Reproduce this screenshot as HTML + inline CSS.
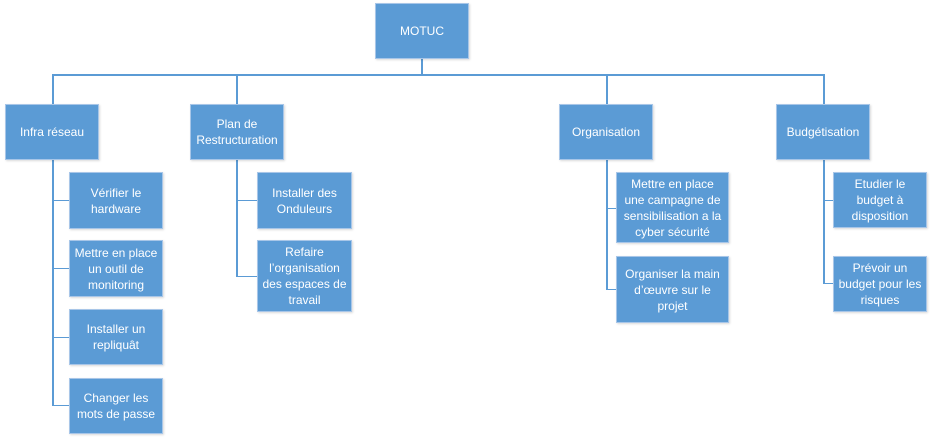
<!DOCTYPE html>
<html><head><meta charset="utf-8"><style>
body{margin:0;width:933px;height:442px;background:#fff;position:relative;overflow:hidden;font-family:"Liberation Sans",sans-serif}
.b{position:absolute;background:#5b9bd5;border:1px solid #a8c6e8;box-sizing:border-box;color:#fff;font-size:12px;line-height:16px;display:flex;align-items:center;justify-content:center;text-align:center;box-shadow:1px 1px 2px rgba(0,0,0,.15);white-space:nowrap}
.l{position:absolute;background:#5b9bd5}
</style></head><body>
<div class="l" style="left:421px;top:59px;width:2px;height:17px"></div>
<div class="l" style="left:52px;top:74px;width:773px;height:2px"></div>
<div class="l" style="left:52px;top:75px;width:2px;height:29px"></div>
<div class="l" style="left:236px;top:75px;width:2px;height:29px"></div>
<div class="l" style="left:606px;top:75px;width:2px;height:29px"></div>
<div class="l" style="left:823px;top:75px;width:2px;height:29px"></div>
<div class="l" style="left:52px;top:160px;width:2px;height:246px"></div>
<div class="l" style="left:52px;top:200px;width:17px;height:1px"></div>
<div class="l" style="left:52px;top:268px;width:17px;height:1px"></div>
<div class="l" style="left:52px;top:337px;width:17px;height:1px"></div>
<div class="l" style="left:52px;top:405px;width:17px;height:1px"></div>
<div class="l" style="left:236px;top:160px;width:2px;height:117px"></div>
<div class="l" style="left:236px;top:200px;width:21px;height:1px"></div>
<div class="l" style="left:236px;top:276px;width:21px;height:1px"></div>
<div class="l" style="left:606px;top:160px;width:2px;height:130px"></div>
<div class="l" style="left:606px;top:208px;width:10px;height:1px"></div>
<div class="l" style="left:606px;top:289px;width:10px;height:1px"></div>
<div class="l" style="left:823px;top:160px;width:2px;height:124px"></div>
<div class="l" style="left:823px;top:200px;width:10px;height:1px"></div>
<div class="l" style="left:823px;top:283px;width:10px;height:1px"></div>

<div class="b" style="left:375px;top:3px;width:94px;height:56px">MOTUC</div>
<div class="b" style="left:5px;top:104px;width:94px;height:56px">Infra réseau</div>
<div class="b" style="left:190px;top:104px;width:94px;height:56px">Plan de<br>Restructuration</div>
<div class="b" style="left:559px;top:104px;width:94px;height:56px">Organisation</div>
<div class="b" style="left:776px;top:104px;width:94px;height:56px">Budgétisation</div>

<div class="b" style="left:69px;top:172px;width:94px;height:57px">Vérifier le<br>hardware</div>
<div class="b" style="left:69px;top:240px;width:94px;height:57px">Mettre en place<br>un outil de<br>monitoring</div>
<div class="b" style="left:69px;top:309px;width:94px;height:56px">Installer un<br>repliquât</div>
<div class="b" style="left:69px;top:378px;width:94px;height:56px">Changer les<br>mots de passe</div>

<div class="b" style="left:257px;top:172px;width:95px;height:57px">Installer des<br>Onduleurs</div>
<div class="b" style="left:257px;top:240px;width:95px;height:72px">Refaire<br>l’organisation<br>des espaces de<br>travail</div>

<div class="b" style="left:616px;top:172px;width:113px;height:71px">Mettre en place<br>une campagne de<br>sensibilisation a la<br>cyber sécurité</div>
<div class="b" style="left:616px;top:256px;width:113px;height:67px">Organiser la main<br>d’œuvre sur le<br>projet</div>

<div class="b" style="left:833px;top:172px;width:94px;height:56px">Etudier le<br>budget à<br>disposition</div>
<div class="b" style="left:833px;top:256px;width:94px;height:56px">Prévoir un<br>budget pour les<br>risques</div>
</body></html>
